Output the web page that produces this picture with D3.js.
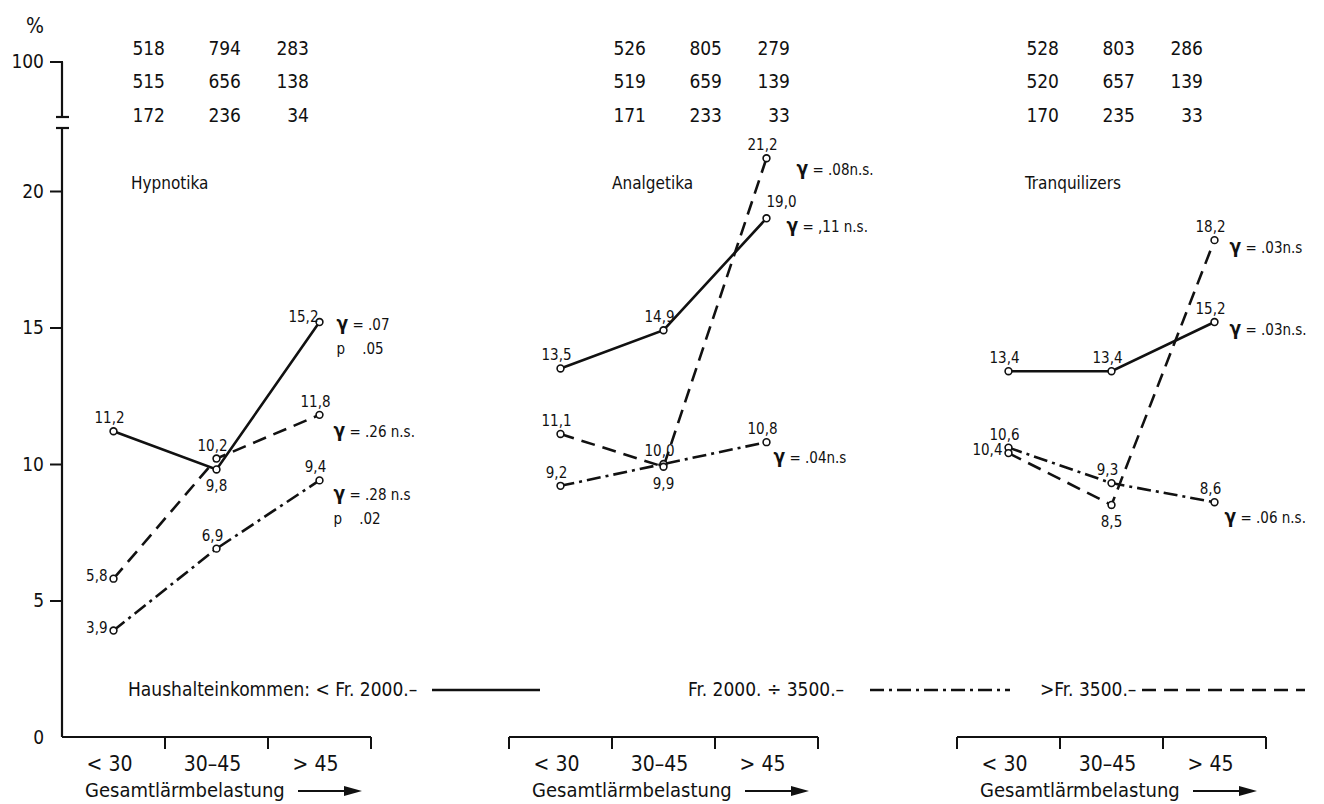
<!DOCTYPE html>
<html>
<head>
<meta charset="utf-8">
<script src="https://cdn.jsdelivr.net/npm/d3@7"></script>
<style>
body { margin: 0; background: #fff; }
text { font-family: "DejaVu Sans Condensed", "DejaVu Sans", sans-serif; fill: #111; white-space: pre; }
</style>
</head>
<body>
<div id="chart"></div>
<script>
// ---- data ----
var drugs = ["Hypnotika", "Analgetika", "Tranquilizers"];
var noiseCats = ["< 30", "30–45", "> 45"];
var incomeLabels = ["Haushalteinkommen: < Fr. 2000.–", "Fr. 2000. ÷ 3500.–", ">Fr. 3500.–"];

// % per panel (Hypnotika, Analgetika, Tranquilizers), one value per noise class
var lowIncome  = [[11.2, 9.8, 15.2], [13.5, 14.9, 19.0], [13.4, 13.4, 15.2]];
var midIncome  = [[3.9, 6.9, 9.4],   [9.2, 10.0, 10.8],  [10.6, 9.3, 8.6]];
var highIncome = [[5.8, 10.2, 11.8], [11.1, 9.9, 21.2],  [10.4, 8.5, 18.2]];

// sample sizes printed above each panel
var nRow1 = [[518, 794, 283], [526, 805, 279], [528, 803, 286]];
var nRow2 = [[515, 656, 138], [519, 659, 139], [520, 657, 139]];
var nRow3 = [[172, 236, 34],  [171, 233, 33],  [170, 235, 33]];

var gammaLow  = [["γ = .07", "p    .05"], ["γ = ,11 n.s."], ["γ = .03n.s."]];
var gammaMid  = [["γ = .28 n.s", "p    .02"], ["γ = .04n.s"], ["γ = .06 n.s."]];
var gammaHigh = [["γ = .26 n.s."], ["γ = .08n.s."], ["γ = .03n.s"]];

var yTicks = [0, 5, 10, 15, 20];

// ---- layout ----
var W = 1324, H = 804;
var panelX = [62, 509, 957], panelW = 309;
var axisY = 737;
var tableX = [131, 612, 1025], colOff = [34, 110, 178], rowY = [55, 88, 122];

// where each value label sits relative to its point
var placeLow  = [["t", "b", "tl"], ["t", "t", "tr"], ["t", "t", "t"]];
var placeMid  = [["l", "t", "t"], ["t", "t", "t"], ["t", "t", "t"]];
var placeHigh = [["l", "t", "t"], ["t", "b", "t"], ["l", "b", "t"]];
var gOffLow  = [[17, 8], [20, 14], [15, 13]];
var gOffMid  = [[14, 20], [7, 21], [10, 21]];
var gOffHigh = [[14, 22], [30, 17], [15, 13]];

var series = [
  {vals: lowIncome,  place: placeLow,  gamma: gammaLow,  goff: gOffLow,  dash: null},
  {vals: midIncome,  place: placeMid,  gamma: gammaMid,  goff: gOffMid,  dash: "14,5,3,5"},
  {vals: highIncome, place: placeHigh, gamma: gammaHigh, goff: gOffHigh, dash: "14,8"}
];

var svg = d3.select("#chart").append("svg")
    .attr("width", W).attr("height", H);

var y = d3.scaleLinear().domain([0, 20]).range([axisY, 191]);

// ---- y axis with break ----
var yAxis = svg.append("g")
    .attr("transform", "translate(62,0)")
    .call(d3.axisLeft(y).tickValues(yTicks).tickSize(12).tickPadding(6));
yAxis.select(".domain").remove();
yAxis.selectAll(".tick line").attr("stroke", "#111").attr("stroke-width", 2)
    .attr("display", function(d) { return d === 0 ? "none" : null; });
yAxis.selectAll(".tick text").style("font-size", "19px")
    .style("font-family", "DejaVu Sans Condensed, DejaVu Sans, sans-serif");

svg.append("line").attr("x1", 62).attr("x2", 62).attr("y1", axisY).attr("y2", 128)
    .attr("stroke", "#111").attr("stroke-width", 2.2);
svg.append("line").attr("x1", 56).attr("x2", 69).attr("y1", 128).attr("y2", 128)
    .attr("stroke", "#111").attr("stroke-width", 2.2);
// upper stub for 100 %
svg.append("line").attr("x1", 62).attr("x2", 62).attr("y1", 62).attr("y2", 117)
    .attr("stroke", "#111").attr("stroke-width", 2.2);
svg.append("line").attr("x1", 56).attr("x2", 69).attr("y1", 117).attr("y2", 117)
    .attr("stroke", "#111").attr("stroke-width", 2.2);
svg.append("line").attr("x1", 50).attr("x2", 63).attr("y1", 62).attr("y2", 62)
    .attr("stroke", "#111").attr("stroke-width", 2);
svg.append("text").attr("x", 44).attr("y", 68).attr("text-anchor", "end")
    .style("font-size", "19px").text("100");
svg.append("text").attr("x", 35).attr("y", 33).attr("text-anchor", "middle")
    .style("font-size", "21px").text("%");

// ---- panels ----
drugs.forEach(function(drug, p) {
  var x0 = panelX[p];
  var x = d3.scaleBand().domain(noiseCats).range([x0, x0 + panelW]);
  var cx = function(c) { return x(c) + x.bandwidth() / 2; };
  var g = svg.append("g");

  // x axis bracket
  g.append("line").attr("x1", x0).attr("x2", x0 + panelW).attr("y1", axisY).attr("y2", axisY)
      .attr("stroke", "#111").attr("stroke-width", 2.2);
  var bounds = noiseCats.map(function(c) { return x(c) + x.bandwidth(); });
  if (p > 0) bounds.unshift(x0);
  g.selectAll(".xt").data(bounds).enter().append("line")
      .attr("x1", function(d) { return d; }).attr("x2", function(d) { return d; })
      .attr("y1", axisY).attr("y2", axisY + 12)
      .attr("stroke", "#111").attr("stroke-width", 2);
  g.selectAll(".xl").data(noiseCats).enter().append("text")
      .attr("x", function(c) { return cx(c) - 4; }).attr("y", 771)
      .attr("text-anchor", "middle").style("font-size", "21px")
      .text(function(c) { return c; });
  g.append("text").attr("x", x0 + 23).attr("y", 797)
      .style("font-size", "20px").text("Gesamtlärmbelastung");
  g.append("line").attr("x1", x0 + 236).attr("x2", x0 + 290).attr("y1", 791).attr("y2", 791)
      .attr("stroke", "#111").attr("stroke-width", 2);
  g.append("path")
      .attr("d", "M" + (x0 + 300) + ",791 L" + (x0 + 282) + ",786 L" + (x0 + 282) + ",796 Z")
      .attr("fill", "#111");

  // sample size table and title
  [nRow1, nRow2, nRow3].forEach(function(row, r) {
    g.selectAll(".n" + r).data(row[p]).enter().append("text")
        .attr("x", function(d, i) { return tableX[p] + colOff[i]; })
        .attr("y", rowY[r]).attr("text-anchor", "end")
        .style("font-size", "19px").text(function(d) { return d; });
  });
  g.append("text").attr("x", tableX[p]).attr("y", 189)
      .style("font-size", "17px").text(drug);

  // lines
  var line = d3.line()
      .x(function(d, i) { return cx(noiseCats[i]); })
      .y(function(d) { return y(d); });
  series.forEach(function(s) {
    g.append("path").datum(s.vals[p]).attr("d", line)
        .attr("fill", "none").attr("stroke", "#111").attr("stroke-width", 2.6)
        .attr("stroke-dasharray", s.dash);
  });

  series.forEach(function(s) {
    var vals = s.vals[p];
    g.selectAll(null).data(vals).enter().append("circle")
        .attr("cx", function(d, i) { return cx(noiseCats[i]); })
        .attr("cy", function(d) { return y(d); })
        .attr("r", 3.4).attr("fill", "#fff").attr("stroke", "#111").attr("stroke-width", 1.6);

    g.selectAll(null).data(vals).enter().append("text")
        .style("font-size", "15px")
        .each(function(d, i) {
          var px = cx(noiseCats[i]), py = y(d), pl = s.place[p][i];
          var t = d3.select(this).text(d.toFixed(1).replace(".", ","));
          if (pl === "t") t.attr("x", px - 4).attr("y", py - 8).attr("text-anchor", "middle");
          else if (pl === "b") t.attr("x", px).attr("y", py + 22).attr("text-anchor", "middle");
          else if (pl === "l") t.attr("x", px - 6).attr("y", py + 2).attr("text-anchor", "end");
          else if (pl === "tl") t.attr("x", px - 1).attr("y", py).attr("text-anchor", "end");
          else t.attr("x", px).attr("y", py - 11).attr("text-anchor", "start");
        });

    // gamma annotation at last point
    var last = vals.length - 1;
    var gx = cx(noiseCats[last]) + s.goff[p][0], gy = y(vals[last]) + s.goff[p][1];
    s.gamma[p].forEach(function(str, k) {
      var t = g.append("text").attr("x", gx).attr("y", gy + k * 24).style("font-size", "15px");
      if (str.charAt(0) === "γ") {
        t.append("tspan").style("font-size", "19px").style("font-weight", "bold").text("γ");
        t.append("tspan").text(str.slice(1));
      } else {
        t.text(str);
      }
    });
  });
});

// ---- legend ----
var legendText = [128, 688, 1040], legendLine = [[432, 540], [870, 1010], [1142, 1305]];
var legendDash = [null, "14,5,3,5", "14,8"];
incomeLabels.forEach(function(lbl, i) {
  svg.append("text").attr("x", legendText[i]).attr("y", 696)
      .style("font-size", "19px").text(lbl);
  svg.append("line").attr("x1", legendLine[i][0]).attr("x2", legendLine[i][1])
      .attr("y1", 690).attr("y2", 690)
      .attr("stroke", "#111").attr("stroke-width", 2.6)
      .attr("stroke-dasharray", legendDash[i]);
});
</script>
</body>
</html>
